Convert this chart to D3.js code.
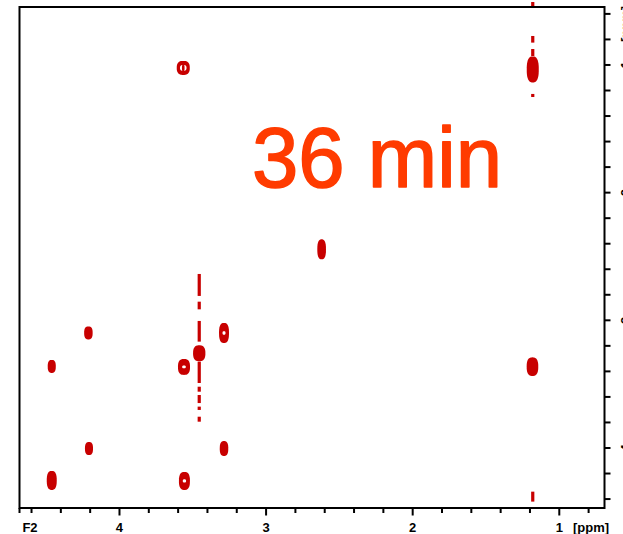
<!DOCTYPE html>
<html>
<head>
<meta charset="utf-8">
<script src="https://cdn.jsdelivr.net/npm/d3@7"></script>
<style>
  html, body { margin: 0; padding: 0; background: #fff; }
  svg { display: block; }
  .ax text { font-family: "Liberation Sans", Arial, sans-serif; font-weight: bold; font-size: 13px; fill: #000; }
</style>
</head>
<body>
<svg id="chart" width="623" height="534"></svg>
<script>
// 2D spectrum: cross peaks (F2 ppm, F1 ppm) with their line widths
const peakF2 = [3.565, 1.181, 3.456, 3.287, 3.560, 4.212, 4.462, 4.208, 4.462, 3.287, 3.557, 2.621, 1.183];
const peakF1 = [1.023, 1.035, 3.258, 3.099, 3.365, 3.099, 3.361, 4.004, 4.254, 4.004, 4.258, 2.444, 3.363];
const widthF2 = [0.089, 0.082, 0.084, 0.068, 0.082, 0.058, 0.055, 0.055, 0.068, 0.058, 0.075, 0.059, 0.079];
const widthF1 = [0.110, 0.204, 0.125, 0.157, 0.125, 0.102, 0.102, 0.102, 0.149, 0.117, 0.141, 0.157, 0.146];
// contour appearance of each peak: solid, ring (open centre) or double (ring around a core)
const peakContour = ["double", "solid", "solid", "ring", "ring", "solid", "solid", "solid", "solid", "solid", "ring", "solid", "solid"];

// t1-noise streaks: F2 position and F1 extents of each dash
const streakF2 = [3.456, 1.181];
const streakDashes = [
  [[2.637, 2.809], [2.854, 2.914], [3.005, 3.167], [3.324, 3.491], [3.520, 3.559], [3.585, 3.648], [3.676, 3.702], [3.755, 3.794]],
  [[0.507, 0.554], [0.773, 0.825], [0.875, 0.930], [1.227, 1.251], [4.342, 4.420]]
];

// axis ticks
const f2Major = [4, 3, 2, 1];
const f2Minor = [4.6, 4.4, 4.2, 3.8, 3.6, 3.4, 3.2, 2.8, 2.6, 2.4, 2.2, 1.8, 1.6, 1.4, 1.2, 0.8];
const f1Major = [1, 2, 3, 4];
const f1Minor = [0.6, 0.8, 1.2, 1.4, 1.6, 1.8, 2.2, 2.4, 2.6, 2.8, 3.2, 3.4, 3.6, 3.8, 4.2, 4.4];
const f2Domain = [4.682, 0.6916];
const f1Domain = [0.546, 4.47];
const title = "36 min";

const svg = d3.select("#chart");
const plotL = 19.5, plotR = 604.5, plotT = 7, plotB = 508;
const peakColor = "#c80000";

const x = d3.scaleLinear().domain(f2Domain).range([plotL, plotR]);
const y = d3.scaleLinear().domain(f1Domain).range([plotT, plotB]);

// contour outline of a peak: a rounded (super-elliptic) closed curve
function blob(cx, cy, rx, ry, n = 2.6) {
  const pts = d3.range(0, 64).map(k => {
    const t = (k / 64) * 2 * Math.PI;
    const c = Math.cos(t), s = Math.sin(t);
    return [cx + rx * Math.sign(c) * Math.pow(Math.abs(c), 2 / n),
            cy + ry * Math.sign(s) * Math.pow(Math.abs(s), 2 / n)];
  });
  return d3.line().curve(d3.curveLinearClosed)(pts);
}

// streaks first so peaks sit over them
streakF2.forEach((p, i) => {
  svg.append("g").selectAll("rect")
    .data(streakDashes[i])
    .join("rect")
    .attr("x", x(p) - 1.6)
    .attr("width", 3.2)
    .attr("y", d => y(d[0]))
    .attr("height", d => y(d[1]) - y(d[0]))
    .attr("fill", peakColor);
});

const peaks = peakF2.map((p, i) => ({
  cx: x(p), cy: y(peakF1[i]),
  rx: Math.abs(x(p + widthF2[i] / 2) - x(p)),
  ry: Math.abs(y(peakF1[i] + widthF1[i] / 2) - y(peakF1[i])),
  kind: peakContour[i]
}));

const pg = svg.append("g");
pg.selectAll("path.outer").data(peaks).join("path")
  .attr("class", "outer")
  .attr("d", d => blob(d.cx, d.cy, d.rx, d.ry))
  .attr("fill", peakColor);
pg.selectAll("path.hole").data(peaks.filter(d => d.kind !== "solid")).join("path")
  .attr("class", "hole")
  .attr("d", d => d.kind === "double"
    ? blob(d.cx, d.cy, d.rx * 0.5, d.ry * 0.42)
    : blob(d.cx, d.cy, d.rx * 0.3, d.ry * 0.18))
  .attr("fill", "#fff");
pg.selectAll("path.core").data(peaks.filter(d => d.kind === "double")).join("path")
  .attr("class", "core")
  .attr("d", d => blob(d.cx, d.cy, d.rx * 0.2, d.ry * 0.5))
  .attr("fill", peakColor);

// frame
svg.append("rect")
  .attr("x", plotL).attr("y", plotT)
  .attr("width", plotR - plotL).attr("height", plotB - plotT)
  .attr("fill", "none").attr("stroke", "#000").attr("stroke-width", 2);

// F2 axis (bottom)
const ax = svg.append("g").attr("class", "ax");
ax.selectAll("line.f2min").data(f2Minor).join("line")
  .attr("x1", d => x(d)).attr("x2", d => x(d))
  .attr("y1", plotB).attr("y2", plotB + 5)
  .attr("stroke", "#000").attr("stroke-width", 2);
ax.selectAll("line.f2maj").data(f2Major).join("line")
  .attr("x1", d => x(d)).attr("x2", d => x(d))
  .attr("y1", plotB).attr("y2", plotB + 7.5)
  .attr("stroke", "#000").attr("stroke-width", 2);
ax.append("line").attr("x1", plotL).attr("x2", plotL)
  .attr("y1", plotB).attr("y2", plotB + 5).attr("stroke", "#000").attr("stroke-width", 2);
ax.selectAll("text.f2lab").data(f2Major).join("text")
  .attr("x", d => x(d)).attr("y", 532)
  .attr("text-anchor", "middle")
  .text(d => d3.format("d")(d));
ax.append("text").attr("x", 30).attr("y", 532).attr("text-anchor", "middle").text("F2");
ax.append("text").attr("x", 573).attr("y", 532).text("[ppm]");

// F1 axis (right); its labels run past the right edge of the page
ax.selectAll("line.f1").data(f1Major.concat(f1Minor)).join("line")
  .attr("x1", plotR).attr("x2", plotR + 6)
  .attr("y1", d => y(d)).attr("y2", d => y(d))
  .attr("stroke", "#000").attr("stroke-width", 2);
ax.selectAll("text.f1lab").data(f1Major).join("text")
  .attr("transform", d => `translate(629.5,${y(d)}) rotate(-90)`)
  .attr("text-anchor", "middle")
  .text(d => d3.format("d")(d));
ax.append("text")
  .attr("transform", "translate(629.5,24) rotate(-90)")
  .attr("text-anchor", "middle")
  .text("[ppm]");

// time stamp
svg.append("text")
  .attr("x", 252).attr("y", 187)
  .attr("textLength", 250).attr("lengthAdjust", "spacingAndGlyphs")
  .attr("font-family", "'Liberation Sans', Arial, sans-serif")
  .attr("font-size", 86)
  .attr("fill", "#ff3b00")
  .attr("stroke", "#ff3b00")
  .attr("stroke-width", 1.6)
  .attr("stroke-linejoin", "round")
  .text(title);
</script>
</body>
</html>
